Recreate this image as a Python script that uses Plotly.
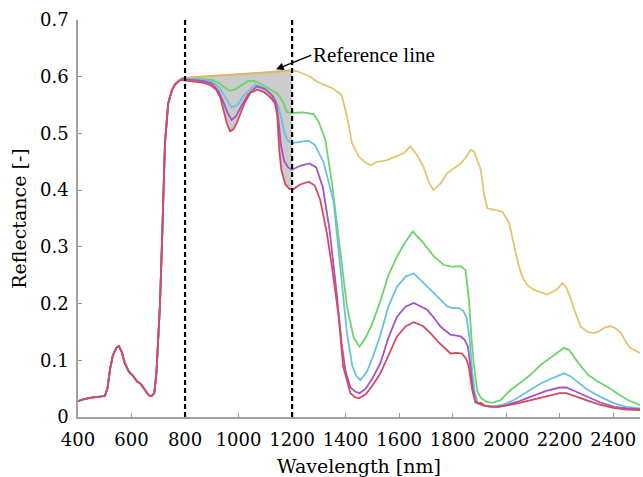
import numpy as np
import plotly.graph_objects as go

# ---------------- data ----------------
# common part (all spectra identical below ~780 nm)
wl_common = [400, 420, 450, 480, 500, 510, 520, 530, 543, 553, 563, 575, 590, 605, 620, 635, 650, 665, 675,
             685, 693, 700, 706, 714, 718, 725, 737, 750, 762, 780]
refl_common = [0.028, 0.031, 0.034, 0.035, 0.037, 0.05, 0.085, 0.108, 0.122, 0.125, 0.115, 0.095, 0.08, 0.073,
               0.063, 0.058, 0.047, 0.038, 0.037, 0.042, 0.077, 0.13, 0.195, 0.31, 0.383, 0.483, 0.553, 0.575,
               0.586, 0.594]

wl_yellow = [790, 850, 900, 950, 1000, 1050, 1100, 1150, 1193, 1218, 1240, 1268, 1290, 1318, 1349, 1368, 1380,
             1386, 1395, 1405, 1424, 1449, 1470, 1493, 1518, 1555, 1590, 1617, 1642, 1667, 1692, 1710, 1728,
             1755, 1780, 1810, 1830, 1850, 1867, 1880, 1905, 1918, 1930, 1955, 1986, 2011, 2029, 2045, 2060,
             2080, 2104, 2154, 2190, 2210, 2223, 2240, 2254, 2279, 2304, 2325, 2342, 2370, 2391, 2410, 2429,
             2450, 2466, 2500]
refl_yellow = [0.597, 0.600, 0.601, 0.602, 0.604, 0.605, 0.607, 0.609, 0.611, 0.610, 0.606, 0.600, 0.592,
               0.586, 0.580, 0.574, 0.570, 0.566, 0.550, 0.530, 0.483, 0.459, 0.450, 0.444, 0.450, 0.453, 0.460,
               0.465, 0.477, 0.462, 0.440, 0.415, 0.400, 0.412, 0.430, 0.440, 0.447, 0.458, 0.471, 0.468, 0.436,
               0.390, 0.368, 0.365, 0.362, 0.342, 0.306, 0.270, 0.247, 0.232, 0.224, 0.216, 0.225, 0.236, 0.230,
               0.210, 0.189, 0.159, 0.150, 0.148, 0.150, 0.158, 0.160, 0.156, 0.148, 0.130, 0.121, 0.113]

wl_green = [790, 830, 870, 905, 930, 950, 968, 990, 1010, 1037, 1060, 1080, 1110, 1143, 1158, 1168, 1180, 1200,
            1240, 1280, 1300, 1324, 1349, 1374, 1405, 1430, 1452, 1475, 1500, 1530, 1560, 1592, 1625, 1651,
            1692, 1730, 1767, 1798, 1830, 1848, 1861, 1870, 1880, 1892, 1905, 1925, 1948, 1980, 2017, 2060,
            2092, 2129, 2154, 2190, 2216, 2235, 2270, 2304, 2340, 2379, 2420, 2454, 2500]
refl_green = [0.598, 0.597, 0.596, 0.594, 0.588, 0.580, 0.575, 0.578, 0.585, 0.593, 0.592, 0.588, 0.580,
              0.571, 0.562, 0.553, 0.538, 0.536, 0.537, 0.534, 0.520, 0.489, 0.413, 0.312, 0.195, 0.140, 0.124,
              0.140, 0.165, 0.205, 0.250, 0.283, 0.310, 0.327, 0.306, 0.283, 0.268, 0.265, 0.266, 0.259, 0.206,
              0.140, 0.089, 0.045, 0.034, 0.027, 0.025, 0.030, 0.048, 0.063, 0.075, 0.092, 0.100, 0.113, 0.122,
              0.118, 0.095, 0.075, 0.063, 0.053, 0.040, 0.030, 0.021]

wl_cyan = [790, 830, 870, 905, 930, 955, 974, 995, 1020, 1062, 1095, 1130, 1150, 1161, 1172, 1185, 1200, 1230,
           1260, 1285, 1317, 1355, 1380, 1405, 1425, 1440, 1455, 1480, 1505, 1530, 1560, 1592, 1625, 1655, 1692,
           1742, 1780, 1800, 1823, 1840, 1852, 1864, 1873, 1882, 1892, 1910, 1942, 1990, 2029, 2080, 2129, 2180,
           2216, 2240, 2270, 2304, 2350, 2404, 2450, 2500]
refl_cyan = [0.597, 0.596, 0.594, 0.590, 0.580, 0.560, 0.546, 0.550, 0.567, 0.586, 0.580, 0.565, 0.545, 0.524,
             0.500, 0.487, 0.483, 0.485, 0.487, 0.480, 0.450, 0.380, 0.265, 0.148, 0.090, 0.072, 0.065, 0.080,
             0.110, 0.145, 0.195, 0.230, 0.248, 0.253, 0.236, 0.212, 0.195, 0.192, 0.192, 0.187, 0.175, 0.136,
             0.080, 0.045, 0.027, 0.020, 0.018, 0.022, 0.030, 0.045, 0.059, 0.070, 0.077, 0.072, 0.060, 0.048,
             0.036, 0.024, 0.018, 0.015]

wl_purple = [790, 830, 870, 900, 925, 945, 960, 974, 990, 1010, 1035, 1068, 1100, 1125, 1140, 1150, 1158, 1170,
             1185, 1200, 1230, 1265, 1290, 1315, 1340, 1365, 1385, 1400, 1418, 1435, 1452, 1475, 1500, 1530,
             1560, 1592, 1625, 1655, 1705, 1730, 1755, 1792, 1830, 1845, 1857, 1866, 1875, 1885, 1895, 1920,
             1967, 2000, 2050, 2092, 2150, 2200, 2225, 2260, 2304, 2350, 2404, 2450, 2500]
refl_purple = [0.596, 0.594, 0.592, 0.588, 0.575, 0.553, 0.535, 0.524, 0.530, 0.548, 0.568, 0.583, 0.578,
               0.567, 0.555, 0.520, 0.480, 0.452, 0.440, 0.436, 0.443, 0.447, 0.440, 0.405, 0.330, 0.225, 0.130,
               0.080, 0.052, 0.045, 0.042, 0.050, 0.068, 0.095, 0.140, 0.177, 0.195, 0.201, 0.189, 0.175, 0.159,
               0.145, 0.142, 0.136, 0.124, 0.090, 0.050, 0.028, 0.024, 0.020, 0.018, 0.021, 0.028, 0.036, 0.046,
               0.052, 0.052, 0.045, 0.036, 0.026, 0.018, 0.015, 0.014]

wl_red = [790, 830, 870, 895, 915, 932, 945, 956, 968, 980, 993, 1010, 1024, 1045, 1070, 1095, 1120, 1136, 1145,
          1152, 1160, 1175, 1190, 1205, 1230, 1262, 1285, 1305, 1330, 1349, 1374, 1391, 1418, 1435, 1450, 1475,
          1500, 1530, 1560, 1592, 1625, 1655, 1690, 1717, 1745, 1770, 1792, 1815, 1835, 1850, 1860, 1873, 1885,
          1895, 1905, 1920, 1945, 1970, 2000, 2050, 2100, 2150, 2200, 2225, 2260, 2304, 2350, 2400, 2450, 2500]
refl_red = [0.594, 0.591, 0.589, 0.585, 0.578, 0.563, 0.540, 0.518, 0.504, 0.507, 0.518, 0.540, 0.555, 0.572,
            0.577, 0.573, 0.563, 0.553, 0.530, 0.470, 0.435, 0.410, 0.402, 0.402, 0.410, 0.415, 0.408, 0.383,
            0.324, 0.265, 0.177, 0.089, 0.042, 0.035, 0.033, 0.040, 0.055, 0.077, 0.110, 0.142, 0.160, 0.167,
            0.160, 0.148, 0.133, 0.122, 0.112, 0.113, 0.112, 0.103, 0.090, 0.048, 0.026, 0.024, 0.025, 0.020,
            0.018, 0.018, 0.020, 0.025, 0.031, 0.036, 0.042, 0.042, 0.036, 0.029, 0.022, 0.016, 0.013, 0.012]

ref_line_wl = [800, 1200]
ref_line_refl = [0.598, 0.611]

x_ticks = [400, 600, 800, 1000, 1200, 1400, 1600, 1800, 2000, 2200, 2400]
y_ticks = [0, 0.1, 0.2, 0.3, 0.4, 0.5, 0.6, 0.7]
dashed_wl = [800, 1200]

# ---------------- figure ----------------
FONT = "DejaVu Serif"
ANN_FONT = "Liberation Serif"
series = [
    (wl_yellow, refl_yellow, "#E6C46E"),
    (wl_green, refl_green, "#6AD66A"),
    (wl_cyan, refl_cyan, "#6CC2DE"),
    (wl_purple, refl_purple, "#A455C2"),
    (wl_red, refl_red, "#D44A5E"),
]

fig = go.Figure()

# shaded band between reference line and red spectrum (800-1200 nm)
red_full_x = np.array(wl_common + wl_red, dtype=float)
red_full_y = np.array(refl_common + refl_red, dtype=float)
seg_x = np.linspace(ref_line_wl[0], ref_line_wl[1], 120)
seg_red = np.interp(seg_x, red_full_x, red_full_y)
seg_ref = np.interp(seg_x, ref_line_wl, ref_line_refl)
poly_x = np.concatenate([seg_x, seg_x[::-1]])
poly_y = np.concatenate([seg_ref, seg_red[::-1]])
fig.add_trace(go.Scatter(x=poly_x, y=poly_y, mode="lines", fill="toself",
                         fillcolor="rgba(160,160,160,0.55)", line=dict(width=0),
                         hoverinfo="skip", showlegend=False))

for wl, refl, col in series:
    fig.add_trace(go.Scatter(x=wl_common + wl, y=refl_common + refl, mode="lines",
                             line=dict(color=col, width=1.8), showlegend=False))

fig.add_trace(go.Scatter(x=ref_line_wl, y=ref_line_refl, mode="lines",
                         line=dict(color="#D9B86A", width=1.8), showlegend=False))

for xv in dashed_wl:
    fig.add_shape(type="line", xref="x", yref="paper", x0=xv, x1=xv, y0=0, y1=1.005,
                  line=dict(color="black", width=2.2, dash="5px,3px"))

fig.add_annotation(x=1140, y=0.613, xref="x", yref="y", ax=1272, ay=0.638, axref="x", ayref="y",
                   text="Reference line", xanchor="left", yanchor="middle", showarrow=True,
                   arrowhead=2, arrowsize=1.1, arrowwidth=1.4, arrowcolor="black",
                   font=dict(family=ANN_FONT, size=21, color="black"))

fig.update_layout(
    width=643, height=477,
    margin=dict(l=78, r=3, t=20, b=60),
    paper_bgcolor="white", plot_bgcolor="white",
    font=dict(family=FONT, size=18, color="black"),
)
fig.update_xaxes(range=[400, 2500], tickvals=x_ticks, ticks="inside", ticklen=4, tickcolor="#999",
                 showline=True, linecolor="#A0A0A0", linewidth=1.5, showgrid=False, zeroline=False,
                 tickfont=dict(family=FONT, size=18, color="black"), ticklabelstandoff=6,
                 title=dict(text="Wavelength [nm]", font=dict(family=FONT, size=19), standoff=10),
                 automargin=False)
fig.update_yaxes(range=[0, 0.7], tickvals=y_ticks, ticktext=["0", "0.1", "0.2", "0.3", "0.4", "0.5", "0.6", "0.7"],
                 ticks="inside", ticklen=4, tickcolor="#999",
                 showline=True, linecolor="#A0A0A0", linewidth=1.5, showgrid=False, zeroline=False,
                 tickfont=dict(family=FONT, size=18, color="black"), ticklabelstandoff=4,
                 title=dict(text="Reflectance [-]", font=dict(family=FONT, size=19), standoff=8),
                 automargin=False)

fig.write_html("out.html")
